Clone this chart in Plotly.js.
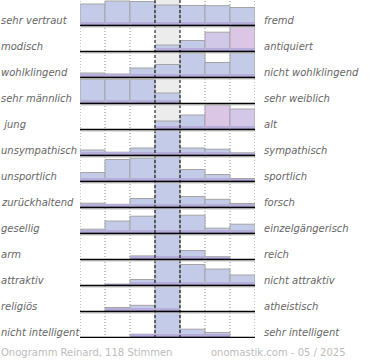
<!DOCTYPE html>
<html><head><meta charset="utf-8">
<script src="https://cdn.plot.ly/plotly-3.0.1.min.js"></script>
<style>html,body{margin:0;padding:0;background:#fff}#chart{width:370px;height:360px}</style>
</head><body><div id="chart"></div>
<script>
// Row labels (top to bottom)
const leftLabels = ["sehr vertraut","modisch","wohlklingend","sehr männlich"," jung","unsympathisch","unsportlich","zurückhaltend","gesellig","arm","attraktiv","religiös","nicht intelligent"];
const rightLabels = ["fremd","antiquiert","nicht wohlklingend","sehr weiblich","alt","sympathisch","sportlich","forsch","einzelgängerisch","reich","nicht attraktiv","atheistisch","sehr intelligent"];
const scalePoints = [1,2,3,4,5,6,7];

// Bar heights per row (unit: 26 = full row height; taller values are clipped)
const vertrautFremd      = [21.5, 24.5, 24, 20.5, 20, 19.8, 18];
const modischAntiquiert  = [0, 0, 0, 6.5, 11, 19.3, 25];
const wohlklingend       = [4.5, 3.5, 9.5, 13, 24.5, 15, 24.5];
const maennlichWeiblich  = [24, 24, 24, 10.5, 0, 0, 0];
const jungAlt            = [0, 0, 0, 8.5, 14.5, 24.5, 20.5];
const sympathisch        = [5.5, 3.3, 7.5, 26, 7.5, 6.3, 2.7];
const sportlich          = [9, 22, 23.3, 26, 12, 7, 3];
const zurueckForsch      = [4.3, 3.2, 9, 26, 11, 8.2, 4];
const geselligEinzel     = [4.3, 12.5, 17.3, 26, 18.3, 5.3, 9.3];
const armReich           = [0, 0, 3.6, 26, 9, 2.8, 0];
const attraktiv          = [0, 1.4, 6, 26, 21, 16.5, 10.5];
const religioesAtheist   = [0, 4, 6.2, 26, 0, 0, 0];
const intelligent        = [0, 0, 3.3, 26, 8.3, 5, 0];

const rows = [vertrautFremd, modischAntiquiert, wohlklingend, maennlichWeiblich, jungAlt,
  sympathisch, sportlich, zurueckForsch, geselligEinzel, armReich, attraktiv, religioesAtheist, intelligent];

// style: tinted bars (row, column index)
const pinkBars = {"1,6":"#dcc6e6","1,5":"#d1c8e8","4,5":"#dcc6e6","4,6":"#d4c8e8"};

const ROW = 26, N = rows.length;
const xs = [], bases = [], hMain = [], h1 = [], h2 = [], colors = [];
rows.forEach((vals, r) => {
  const base = (N - 1 - r) * ROW;
  vals.forEach((v, c) => {
    const h = Math.min(v, ROW);
    xs.push(c); bases.push(base);
    hMain.push(h); h1.push(Math.min(h, 3.5)); h2.push(Math.min(h, 1.8));
    colors.push(pinkBars[r + "," + c] || "#c4cbe9");
  });
});

const traces = [
  {type:"bar", x:xs, y:hMain, base:bases, width:1, marker:{color:colors, line:{color:"#a4a4a4", width:1}}, hoverinfo:"skip"},
  {type:"bar", x:xs, y:h1, base:bases, width:0.96, marker:{color:"#b6addb", line:{width:0}}, hoverinfo:"skip"},
  {type:"bar", x:xs, y:h2, base:bases, width:0.96, marker:{color:"#a596c8", line:{width:0}}, hoverinfo:"skip"}
];

const shapes = [];
shapes.push({type:"rect", xref:"x", yref:"paper", x0:2.5, x1:3.5, y0:0, y1:1, fillcolor:"#ececec", line:{width:0}, layer:"below"});
[-0.5,0.5,1.5,4.5,5.5,6.5].forEach(x => shapes.push({type:"line", xref:"x", yref:"paper", x0:x, x1:x, y0:0, y1:1, line:{color:"#8a8a8a", width:1, dash:"1px,2px"}, layer:"below"}));
[2.5,3.5].forEach(x => shapes.push({type:"line", xref:"x", yref:"paper", x0:x, x1:x, y0:0, y1:1, line:{color:"#000", width:1, dash:"3px,2px"}, layer:"above"}));
const annotations = [];
const lblFont = {family:"DejaVu Sans", size:10, color:"#666666", style:"italic"};
rows.forEach((vals, r) => {
  const base = (N - 1 - r) * ROW;
  shapes.push({type:"line", xref:"x", yref:"y", x0:-0.46, x1:6.54, y0:base-1.5, y1:base-1.5, line:{color:"#c4c4c4", width:1}, layer:"above"});
  shapes.push({type:"line", xref:"x", yref:"y", x0:-0.5, x1:6.5, y0:base, y1:base, line:{color:"#000", width:1.6}, layer:"above"});
  annotations.push({xref:"paper", yref:"y", x:-81/175, xanchor:"left", y:base+5, yanchor:"middle", text:leftLabels[r], showarrow:false, font:lblFont});
  annotations.push({xref:"paper", yref:"y", x:(262-80)/175, xanchor:"left", y:base+5, yanchor:"middle", text:rightLabels[r], showarrow:false, font:lblFont});
});
const footFont = {family:"DejaVu Sans", size:10, color:"#bcbcbc"};
annotations.push({xref:"paper", yref:"paper", x:-81/175, xanchor:"left", y:(338-352)/338, yanchor:"middle", text:"Onogramm Reinard, 118 Stimmen", showarrow:false, font:footFont});
annotations.push({xref:"paper", yref:"paper", x:(348-80)/175, xanchor:"right", y:(338-352)/338, yanchor:"middle", text:"onomastik.com - 05 / 2025", showarrow:false, font:footFont});

const layout = {
  width:370, height:360, margin:{l:80, r:115, t:0, b:22, pad:0},
  paper_bgcolor:"#fff", plot_bgcolor:"#fff",
  barmode:"overlay", bargap:0, showlegend:false,
  xaxis:{range:[-0.5,6.5], visible:false, fixedrange:true},
  yaxis:{range:[-0.5,337.5], visible:false, fixedrange:true},
  shapes:shapes, annotations:annotations
};
Plotly.newPlot("chart", traces, layout, {staticPlot:true, displayModeBar:false});
</script></body></html>
